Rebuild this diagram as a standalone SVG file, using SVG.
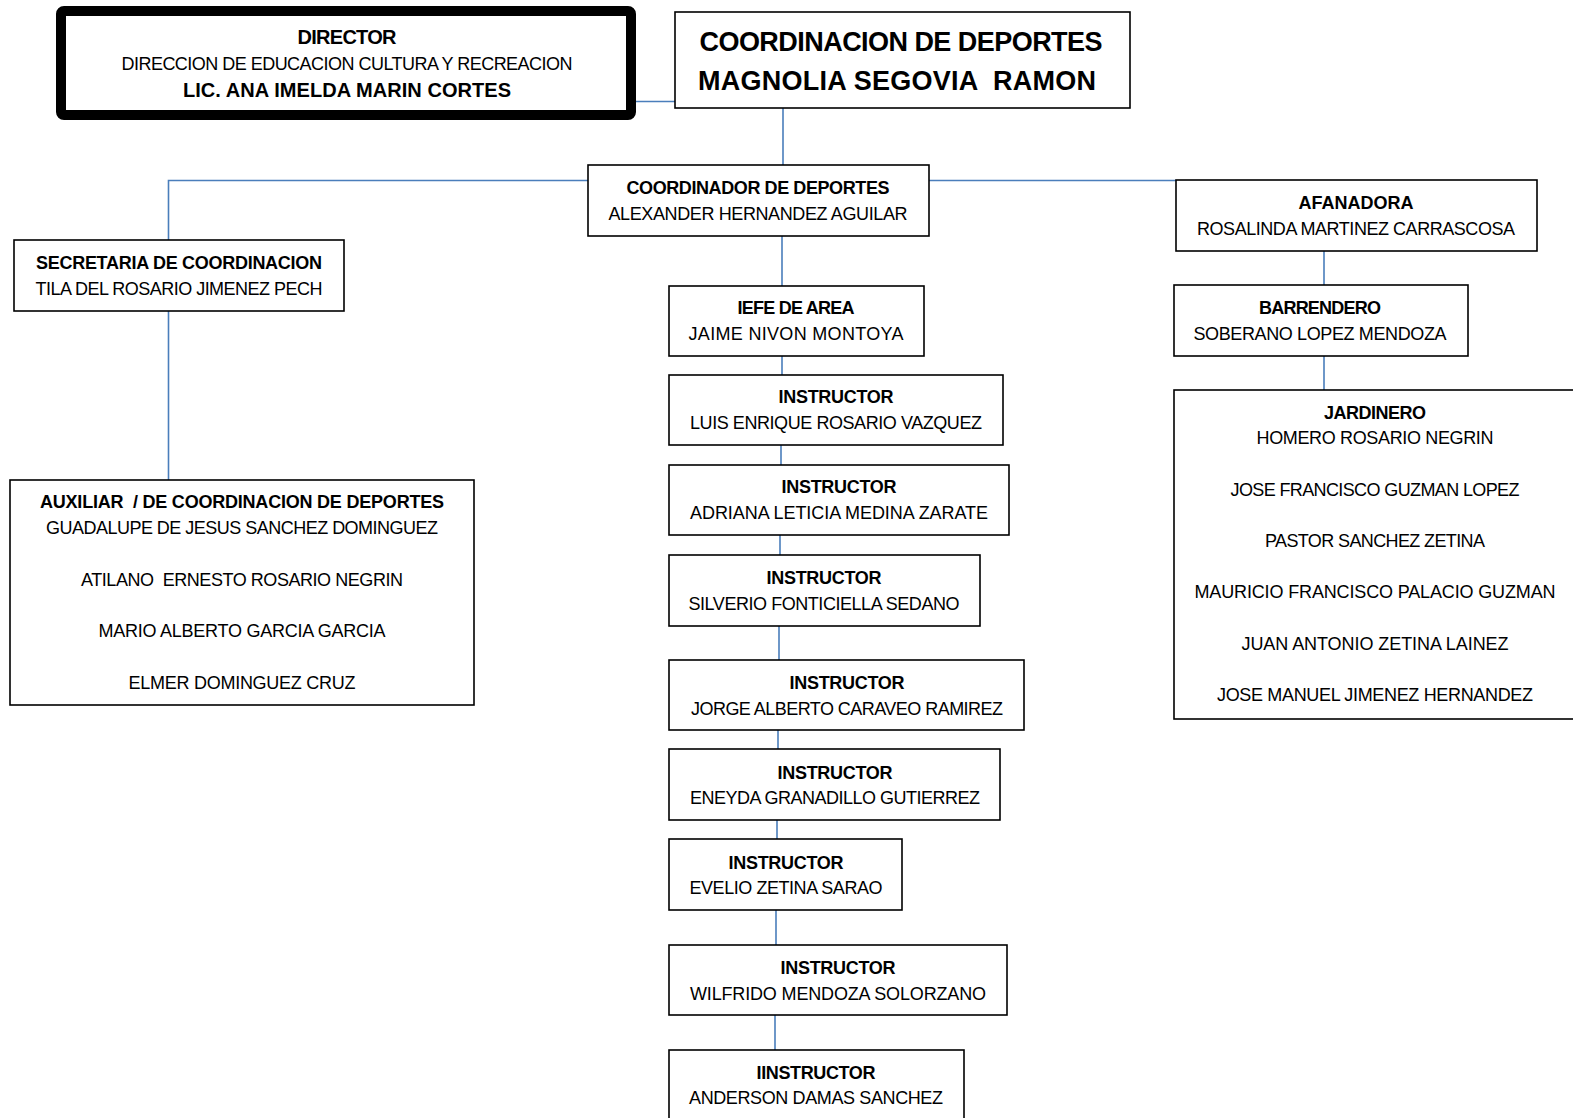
<svg xmlns="http://www.w3.org/2000/svg" width="1573" height="1118" viewBox="0 0 1573 1118">
<style>
text{white-space:pre}
.box{fill:#fff;stroke:#000;stroke-width:1.6}
.b{font-family:"Liberation Sans",Arial,sans-serif;font-size:18px;font-weight:bold;text-anchor:middle;fill:#000}
.b2{font-family:"Liberation Sans",Arial,sans-serif;font-size:20px;font-weight:bold;text-anchor:middle;fill:#000}
.n{font-family:"Liberation Sans",Arial,sans-serif;font-size:18px;text-anchor:middle;fill:#000}
.big{font-family:"Liberation Sans",Arial,sans-serif;font-size:27px;font-weight:bold;text-anchor:middle;fill:#000}
.c{stroke:#4a7ebb;stroke-width:1.6;fill:none}
</style>
<rect width="1573" height="1118" fill="#fff"/>
<g id="connectors">
<path class="c" d="M628 101.5H675"/>
<path class="c" d="M783 108V165"/>
<path class="c" d="M588 180.5H168.5V240"/>
<path class="c" d="M929 180.5H1176"/>
<path class="c" d="M168.5 311V480"/>
<path class="c" d="M1324 251V285"/>
<path class="c" d="M1324 356V390"/>
<path class="c" d="M782 236V286"/>
<path class="c" d="M782 356V375"/>
<path class="c" d="M781 445V465"/>
<path class="c" d="M780 535V555"/>
<path class="c" d="M779 625V660"/>
<path class="c" d="M778 730V749"/>
<path class="c" d="M777 820V839"/>
<path class="c" d="M776 910V945"/>
<path class="c" d="M775 1015V1050"/>
</g>
<g id="director">
<rect x="61" y="11" width="570" height="104" rx="3" fill="#fff" stroke="#000" stroke-width="10"/>
<text class="b2" x="347" y="44" textLength="99">DIRECTOR</text>
<text class="n" x="347" y="70" textLength="451">DIRECCION DE EDUCACION CULTURA Y RECREACION</text>
<text class="b2" x="347" y="97" textLength="328">LIC. ANA IMELDA MARIN CORTES</text>
</g>
<g id="coordinacion">
<rect class="box" x="675" y="12" width="455" height="96"/>
<text class="big" x="901" y="51" textLength="403">COORDINACION DE DEPORTES</text>
<text class="big" x="897" y="90" textLength="398">MAGNOLIA SEGOVIA  RAMON</text>
</g>
<g id="coordinador">
<rect class="box" x="588" y="165" width="341" height="71"/>
<text class="b" x="758" y="194" textLength="263">COORDINADOR DE DEPORTES</text>
<text class="n" x="758" y="220" textLength="299">ALEXANDER HERNANDEZ AGUILAR</text>
</g>
<g id="secretaria">
<rect class="box" x="14" y="240" width="330" height="71"/>
<text class="b" x="179" y="269" textLength="286">SECRETARIA DE COORDINACION</text>
<text class="n" x="179" y="295" textLength="287">TILA DEL ROSARIO JIMENEZ PECH</text>
</g>
<g id="auxiliar">
<rect class="box" x="10" y="480" width="464" height="225"/>
<text class="b" x="242" y="508" textLength="404">AUXILIAR  / DE COORDINACION DE DEPORTES</text>
<text class="n" x="242" y="534" textLength="392">GUADALUPE DE JESUS SANCHEZ DOMINGUEZ</text>
<text class="n" x="242" y="586" textLength="322">ATILANO  ERNESTO ROSARIO NEGRIN</text>
<text class="n" x="242" y="637" textLength="287">MARIO ALBERTO GARCIA GARCIA</text>
<text class="n" x="242" y="689" textLength="227">ELMER DOMINGUEZ CRUZ</text>
</g>
<g id="afanadora">
<rect class="box" x="1176" y="180" width="361" height="71"/>
<text class="b" x="1356" y="209" textLength="115">AFANADORA</text>
<text class="n" x="1356" y="235" textLength="318">ROSALINDA MARTINEZ CARRASCOSA</text>
</g>
<g id="barrendero">
<rect class="box" x="1174" y="285" width="294" height="71"/>
<text class="b" x="1320" y="314" textLength="122">BARRENDERO</text>
<text class="n" x="1320" y="340" textLength="253">SOBERANO LOPEZ MENDOZA</text>
</g>
<g id="jardinero">
<rect class="box" x="1174" y="390" width="420" height="329"/>
<text class="b" x="1375" y="419" textLength="102">JARDINERO</text>
<text class="n" x="1375" y="444" textLength="237">HOMERO ROSARIO NEGRIN</text>
<text class="n" x="1375" y="496" textLength="289">JOSE FRANCISCO GUZMAN LOPEZ</text>
<text class="n" x="1375" y="547" textLength="220">PASTOR SANCHEZ ZETINA</text>
<text class="n" x="1375" y="598" textLength="361">MAURICIO FRANCISCO PALACIO GUZMAN</text>
<text class="n" x="1375" y="650" textLength="267">JUAN ANTONIO ZETINA LAINEZ</text>
<text class="n" x="1375" y="701" textLength="316">JOSE MANUEL JIMENEZ HERNANDEZ</text>
</g>
<g id="jefe">
<rect class="box" x="669" y="286" width="255" height="70"/>
<text class="b" x="796" y="314" textLength="117">IEFE DE AREA</text>
<text class="n" x="796" y="340" textLength="215">JAIME NIVON MONTOYA</text>
</g>
<g id="instructor1">
<rect class="box" x="669" y="375" width="334" height="70"/>
<text class="b" x="836" y="403" textLength="115">INSTRUCTOR</text>
<text class="n" x="836" y="429" textLength="292">LUIS ENRIQUE ROSARIO VAZQUEZ</text>
</g>
<g id="instructor2">
<rect class="box" x="669" y="465" width="340" height="70"/>
<text class="b" x="839" y="493" textLength="115">INSTRUCTOR</text>
<text class="n" x="839" y="519" textLength="298">ADRIANA LETICIA MEDINA ZARATE</text>
</g>
<g id="instructor3">
<rect class="box" x="669" y="555" width="311" height="71"/>
<text class="b" x="824" y="584" textLength="115">INSTRUCTOR</text>
<text class="n" x="824" y="610" textLength="271">SILVERIO FONTICIELLA SEDANO</text>
</g>
<g id="instructor4">
<rect class="box" x="669" y="660" width="355" height="70"/>
<text class="b" x="847" y="689" textLength="115">INSTRUCTOR</text>
<text class="n" x="847" y="715" textLength="312">JORGE ALBERTO CARAVEO RAMIREZ</text>
</g>
<g id="instructor5">
<rect class="box" x="669" y="749" width="331" height="71"/>
<text class="b" x="835" y="779" textLength="115">INSTRUCTOR</text>
<text class="n" x="835" y="804" textLength="290">ENEYDA GRANADILLO GUTIERREZ</text>
</g>
<g id="instructor6">
<rect class="box" x="669" y="839" width="233" height="71"/>
<text class="b" x="786" y="869" textLength="115">INSTRUCTOR</text>
<text class="n" x="786" y="894" textLength="193">EVELIO ZETINA SARAO</text>
</g>
<g id="instructor7">
<rect class="box" x="669" y="945" width="338" height="70"/>
<text class="b" x="838" y="974" textLength="115">INSTRUCTOR</text>
<text class="n" x="838" y="1000" textLength="296">WILFRIDO MENDOZA SOLORZANO</text>
</g>
<g id="instructor8">
<rect class="box" x="669" y="1050" width="295" height="80"/>
<text class="b" x="816" y="1079" textLength="119">IINSTRUCTOR</text>
<text class="n" x="816" y="1104" textLength="254">ANDERSON DAMAS SANCHEZ</text>
</g>
</svg>
